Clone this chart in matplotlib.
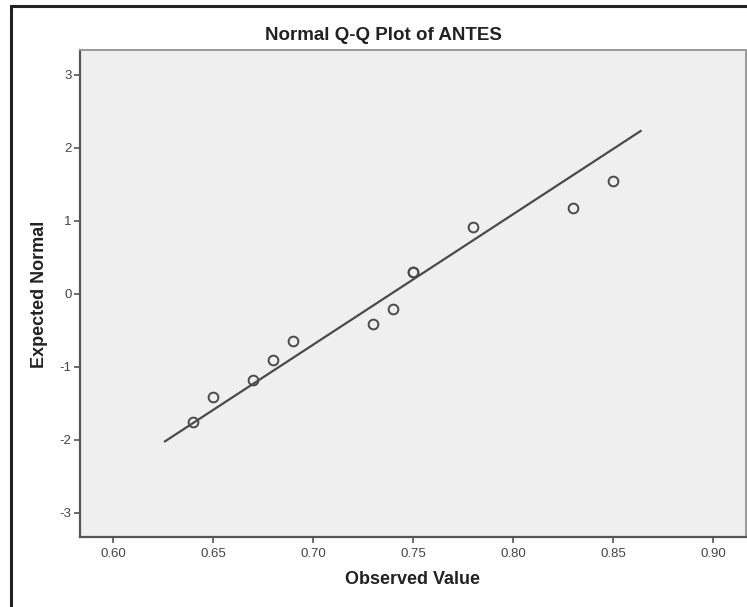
import matplotlib
matplotlib.use("Agg")
import matplotlib.pyplot as plt
from matplotlib.patches import Rectangle

plt.rcParams['font.family'] = ['Liberation Sans', 'DejaVu Sans']

# Data
observed = [0.64, 0.65, 0.67, 0.68, 0.69, 0.73, 0.74, 0.75, 0.75, 0.78, 0.83, 0.85]
expected = [-1.75, -1.41, -1.18, -0.91, -0.64, -0.41, -0.21, 0.30, 0.30, 0.91, 1.17, 1.55]
line_x = [0.626, 0.8638]
line_y = [-2.02, 2.23]
xticks = [0.60, 0.65, 0.70, 0.75, 0.80, 0.85, 0.90]
xtick_labels = ["0.60", "0.65", "0.70", "0.75", "0.80", "0.85", "0.90"]
yticks = [-3, -2, -1, 0, 1, 2, 3]
title = "Normal Q-Q Plot of ANTES"
xlabel = "Observed Value"
ylabel = "Expected Normal"

W, H = 747, 607
fig = plt.figure(figsize=(W / 100, H / 100), dpi=100)
fig.patch.set_facecolor('white')

# outer frame
fig.patches.append(Rectangle((11 / W, -0.2), 1.3, (1 - 6 / H) + 0.2, transform=fig.transFigure,
                             fill=False, edgecolor='#222222', linewidth=2.2, clip_on=False))

ax = fig.add_axes([80 / W, 1 - 537 / H, (746 - 80) / W, (537 - 50) / H])
ax.set_facecolor('#efefef')

ax.plot(line_x, line_y, color='#4a4a4a', linewidth=1.6, zorder=2)
ax.plot(observed, expected, linestyle='none', marker='o', markersize=7,
        markerfacecolor='none', markeredgecolor='#4a4a4a', markeredgewidth=1.4, zorder=3)

ax.set_xlim(0.5835, 0.9165)
ax.set_ylim(-3.33, 3.34)
ax.set_xticks(xticks)
ax.set_xticklabels(xtick_labels)
ax.set_yticks(yticks)
ax.set_yticklabels([str(t) for t in yticks])

for s in ['left', 'bottom']:
    ax.spines[s].set_color('#555555')
    ax.spines[s].set_linewidth(1.6)
for s in ['top', 'right']:
    ax.spines[s].set_color('#9a9a9a')
    ax.spines[s].set_linewidth(1.4)

ax.tick_params(axis='both', direction='out', length=4, width=1.2, color='#555555',
               labelsize=9.5, labelcolor='#444444')
ax.tick_params(axis='x', pad=4)
ax.tick_params(axis='y', pad=2)

ax.set_xlabel(xlabel, fontsize=13, fontweight='bold', color='#222222', va='center')
ax.xaxis.set_label_coords((412.5 - 80) / (746 - 80), (537 - 580) / (537 - 50))
ax.set_ylabel(ylabel, fontsize=13, fontweight='bold', color='#222222', va='center')
ax.yaxis.set_label_coords((40 - 80) / (746 - 80), (537 - 294) / (537 - 50))

fig.text(383.5 / W, 1 - 36 / H, title, ha='center', va='center',
         fontsize=13.5, fontweight='bold', color='#222222')

fig.savefig('out.png', dpi=100)
